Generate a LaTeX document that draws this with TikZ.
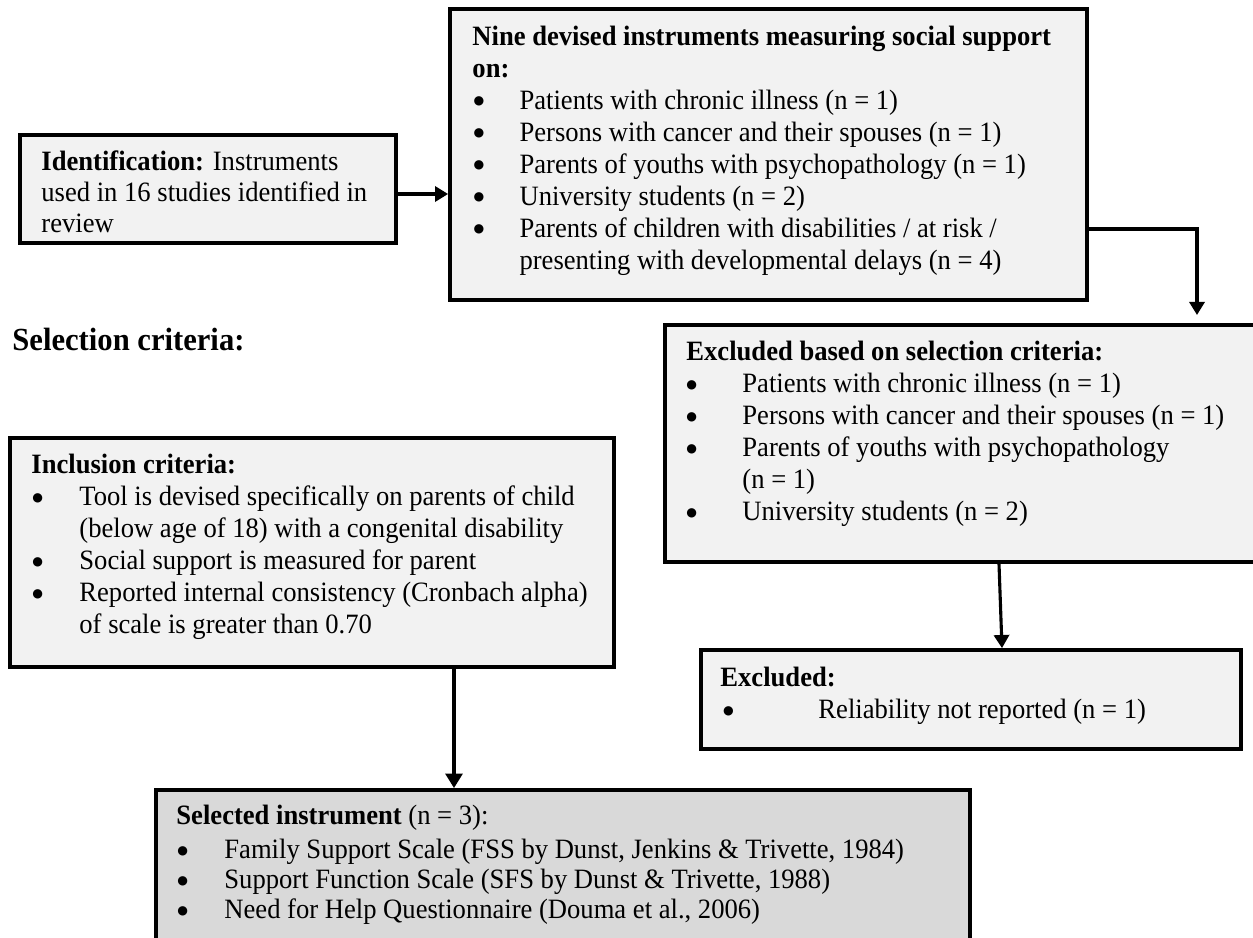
\documentclass[tikz,border=0pt]{standalone}
\usepackage{fontspec}
\setmainfont{Liberation Serif}[FakeStretch=0.95]
\newfontfamily\bulfont{DejaVu Sans}
\usetikzlibrary{arrows.meta,fit}
\definecolor{boxgray}{HTML}{F2F2F2}
\definecolor{selgray}{HTML}{D9D9D9}
\newcommand{\bigbul}{\raisebox{2.1pt}{\bulfont\fontsize{5.5}{5.5}\selectfont ●}}
\newcommand{\bitem}[3]{\makebox[#1][l]{\hspace*{#2}\bigbul}#3}
\tikzset{
  boxl/.style={draw=black, line width=1.7pt, fill=boxgray, inner sep=0pt},
  boxd/.style={draw=black, line width=1.7pt, fill=selgray, inner sep=0pt},
  txt/.style={anchor=north west, inner sep=0pt, align=left, font=\fontsize{12.6}{14.4}\selectfont},
  conn/.style={line width=1.4pt, -{Triangle[length=5.9pt,width=6.8pt]}},
  thickconn/.style={line width=2.2pt, -{Triangle[length=6.5pt,width=7.5pt]}}
}
\begin{document}
\begin{tikzpicture}[x=0.45pt,y=-0.45pt]
\useasboundingbox (0,0) rectangle (1253,938);
\clip (0,0) rectangle (1253,938);

% boxes
\node[boxl, fit={(20,135) (396,243)}] (ident) {};
\node[boxl, fit={(450,9) (1087,300)}] (nine) {};
\node[boxl, fit={(665,325) (1300,562)}] (exb) {};
\node[boxl, fit={(701,650) (1241,749)}] (ex) {};
\node[boxl, fit={(10,438) (614,667)}] (incl) {};
\node[boxd, fit={(156,790) (970,1000)}] (sel) {};

% texts
\node[txt, font=\fontsize{12.6}{14}\selectfont] (identtxt) at (41,147.8)
  {\rule{0pt}{10pt}\textbf{Identification:} Instruments\\
   used in 16 studies identified in\\
   review};

\node[txt] (ninetxt) at (472,22.8)
  {\rule{0pt}{10pt}\textbf{Nine devised instruments measuring social support}\\
   \textbf{on:}\\
   \bitem{21.2pt}{0.5pt}{Patients with chronic illness (n = 1)}\\
   \bitem{21.2pt}{0.5pt}{Persons with cancer and their spouses (n = 1)}\\
   \bitem{21.2pt}{0.5pt}{Parents of youths with psychopathology (n = 1)}\\
   \bitem{21.2pt}{0.5pt}{University students (n = 2)}\\
   \bitem{21.2pt}{0.5pt}{Parents of children with disabilities / at risk /}\\
   \hspace*{21.2pt}presenting with developmental delays (n = 4)};

\node[anchor=base west, inner sep=0pt, font=\fontsize{14.5}{16}\selectfont\bfseries] (selhead) at (12,350) {Selection criteria:};

\node[txt] (exbtxt) at (686,338)
  {\rule{0pt}{10pt}\textbf{Excluded based on selection criteria:}\\
   \bitem{25.2pt}{0pt}{Patients with chronic illness (n = 1)}\\
   \bitem{25.2pt}{0pt}{Persons with cancer and their spouses (n = 1)}\\
   \bitem{25.2pt}{0pt}{Parents of youths with psychopathology}\\
   \hspace*{25.2pt}(n = 1)\\
   \bitem{25.2pt}{0pt}{University students (n = 2)}};

\node[txt] (inctxt) at (31,451)
  {\rule{0pt}{10pt}\textbf{Inclusion criteria:}\\
   \bitem{21.6pt}{0.4pt}{Tool is devised specifically on parents of child}\\
   \hspace*{21.6pt}(below age of 18) with a congenital disability\\
   \bitem{21.6pt}{0.4pt}{Social support is measured for parent}\\
   \bitem{21.6pt}{0.4pt}{Reported internal consistency (Cronbach alpha)}\\
   \hspace*{21.6pt}of scale is greater than 0.70};

\node[txt] (extxt) at (720,664)
  {\rule{0pt}{10pt}\textbf{Excluded:}\\
   \bitem{44.1pt}{1.2pt}{Reliability not reported (n = 1)}};

\node[txt, font=\fontsize{12.6}{13.5}\selectfont] (seltxt) at (176,802)
  {\rule{0pt}{10pt}\textbf{Selected instrument} (n = 3):\\[1.8pt]
   \bitem{21.6pt}{0.4pt}{Family Support Scale (FSS by Dunst, Jenkins \& Trivette, 1984)}\\
   \bitem{21.6pt}{0.4pt}{Support Function Scale (SFS by Dunst \& Trivette, 1988)}\\
   \bitem{21.6pt}{0.4pt}{Need for Help Questionnaire (Douma et al., 2006)}};

% connectors
\coordinate (y1) at (0,194);
\coordinate (y2) at (0,229);
\coordinate (t2) at (1197,315);
\coordinate (t3a) at (999,0);
\coordinate (t3b) at (1002,0);
\coordinate (t4) at (454,0);
\draw[conn] (y1 -| ident.east) -- (y1 -| nine.west);
\draw[conn] (y2 -| nine.east) -| (t2);
\draw[conn] (t3a |- exb.south) -- (t3b |- ex.north);
\draw[thickconn] (t4 |- incl.south) -- (t4 |- sel.north);
\end{tikzpicture}
\end{document}
